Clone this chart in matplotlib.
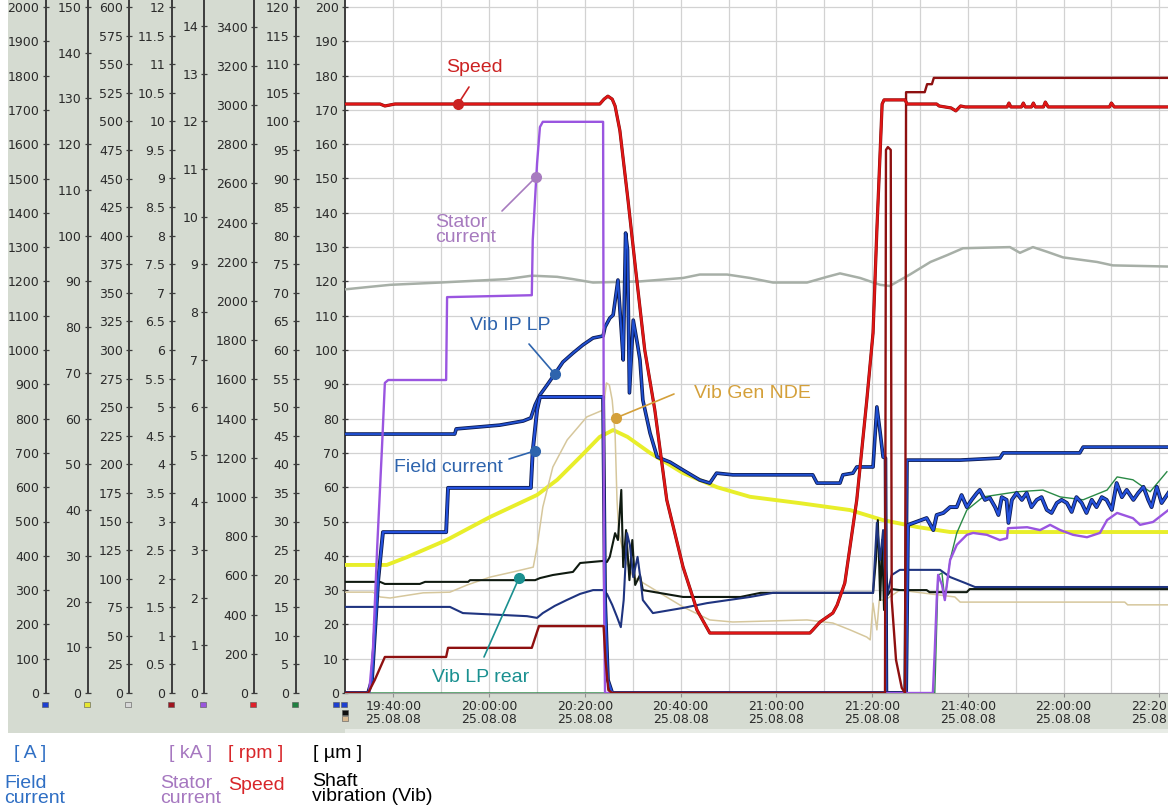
import matplotlib
matplotlib.use("Agg")
import numpy as np
import matplotlib.pyplot as plt
import matplotlib.patheffects as pe
from matplotlib.patches import Rectangle
from matplotlib.ticker import FormatStrFormatter

W, H, DPI = 1168, 811, 100

# ---------------- data ----------------
# time axis: minutes after 19:40:00 on 25.08.08
time_ticks = [0, 20, 40, 60, 80, 100, 120, 140, 160]
time_labels = ["19:40:00\n25.08.08", "20:00:00\n25.08.08", "20:20:00\n25.08.08",
               "20:40:00\n25.08.08", "21:00:00\n25.08.08", "21:20:00\n25.08.08",
               "21:40:00\n25.08.08", "22:00:00\n25.08.08", "22:20:00\n25.08.08"]

# Speed [rpm]
speed_t = [-10.2, -2.8, -1.8, 0.3, 43.1, 44.0, 44.8, 45.7, 46.3, 47.3, 49.0, 50.6, 52.5, 54.6,
           57.1, 60.5, 63.4, 66.1, 87.0, 87.6, 89.1, 91.8, 92.7, 94.3, 96.8, 98.9, 100.2, 101.0,
           101.7, 102.1, 102.5, 106.9, 107.3, 113.5, 114.0, 116.5, 117.5, 118.5, 119.5, 128.2,
           128.6, 129.0, 131.2, 131.6, 132.0, 133.3, 133.7, 134.1, 135.8, 136.2, 136.8, 149.6,
           150.0, 150.6, 161.9]
speed_rpm = [3005, 3005, 2995, 3005, 3005, 3030, 3045, 3030, 2995, 2870, 2515, 2160, 1750, 1445,
             985, 643, 424, 306, 306, 321, 362, 408, 449, 561, 985, 1495, 1837, 2362,
             2770, 3005, 3026, 3026, 3005, 3005, 2995, 2985, 2970, 2995, 2990, 2990,
             3010, 2990, 2990, 3010, 2990, 2990, 3010, 2990, 2990, 3015, 2990, 2990,
             3010, 2990, 2990]

# second (dark red) channel, scale 0-12
dred_t = [-10.2, -5.3, -3.9, -1.8, 11.0, 11.4, 28.9, 30.4, 43.9, 44.3, 44.9, 45.7, 102.7, 102.9,
          103.3, 103.9, 104.1, 105.0, 106.2, 106.9, 107.1, 111.0, 111.5, 112.5, 112.9, 161.9]
dred_val = [0, 0, 0.23, 0.63, 0.63, 0.79, 0.79, 1.17, 1.17, 0.58, 0.05, 0, 0, 9.5,
            9.55, 9.5, 1.63, 0.58, 0.09, 0, 10.51, 10.51, 10.65, 10.65, 10.76, 10.76]

# Field current [A]
field_t = [-10.2, -5.3, -4.5, -3.2, -2.2, 11.0, 11.4, 28.7, 29.1, 30.0, 30.6, 43.8, 44.2, 44.8,
           45.7, 107.1, 107.5, 111.4, 112.8, 113.5, 114.9, 116.3, 117.7, 118.7, 119.8, 120.8,
           121.9, 122.5, 123.6, 124.6, 125.7, 126.4, 127.1, 128.1, 128.5, 129.2, 130.2, 131.3,
           132.3, 133.3, 134.4, 135.4, 136.5, 137.5, 138.6, 139.6, 140.7, 141.7, 142.7, 143.8,
           144.8, 145.9, 146.9, 148.0, 149.0, 150.1, 151.1, 152.2, 153.2, 154.6, 155.6, 156.7,
           157.7, 158.4, 159.5, 160.5, 161.9]
field_A = [0, 0, 38, 329, 469, 469, 598, 598, 706, 825, 863, 863, 271, 38,
           0, 0, 490, 510, 475, 519, 525, 542, 542, 577, 542, 563,
           583, 592, 563, 569, 542, 519, 571, 563, 496, 563, 583, 563,
           583, 542, 563, 571, 534, 525, 554, 563, 554, 528, 571, 554,
           525, 563, 542, 571, 563, 534, 612, 571, 592, 563, 583, 601,
           563, 542, 601, 554, 583]

# Stator current [kA]
stator_t = [-10.2, -5.1, -4.3, -3.4, -2.4, -1.8, -1.1, 11.0, 11.2, 28.9, 29.1, 30.0, 30.6, 31.2,
            43.8, 44.0, 44.2, 112.7, 113.1, 113.5, 113.8, 114.6, 115.2, 116.3, 117.7, 119.8,
            121.1, 124.0, 126.7, 128.2, 128.4, 132.4, 135.1, 137.2, 139.3, 142.0, 144.9, 147.6,
            149.1, 151.2, 154.5, 156.0, 158.7, 161.9]
stator_kA = [0, 0, 0.90, 3.07, 5.16, 6.51, 6.57, 6.57, 8.31, 8.35, 9.51, 11.12, 11.88, 11.99,
             11.99, 1.95, 0, 0, 0.90, 1.95, 2.48, 2.27, 1.95, 2.79, 3.11, 3.32,
             3.36, 3.32, 3.21, 3.25, 3.46, 3.48, 3.42, 3.53, 3.42, 3.32, 3.27, 3.36,
             3.63, 3.78, 3.67, 3.53, 3.59, 3.84]

# Shaft vibration [um]
vib_ip_lp_t = [-10.2, 12.8, 13.1, 18.1, 22.2, 27.1, 28.7, 29.6, 30.6, 32.1, 33.7, 35.4, 37.5, 39.6,
               41.7, 43.8, 44.2, 45.2, 45.9, 46.9, 47.6, 48.0, 48.5, 48.9, 49.3, 50.1, 51.0, 51.5,
               52.1, 53.6, 55.1, 57.8, 60.5, 64.0, 66.1, 67.5, 70.9, 87.6, 88.5, 93.3, 93.9, 96.0,
               96.8, 100.2, 101.0, 101.7, 102.3, 102.8, 103.0, 106.9, 107.3, 118.4, 126.7, 127.4,
               143.4, 144.1, 161.9]
vib_ip_lp = [75.5, 75.5, 77.0, 77.6, 78.1, 79.3, 80.2, 84.0, 86.9, 89.8, 93.0, 96.5, 99.1, 101.5,
             103.5, 104.1, 106.7, 109.3, 110.2, 120.4, 105.8, 97.1, 134.1, 129.2, 87.5, 108.7, 101.5, 97.1,
             85.4, 75.8, 68.8, 67.3, 65.0, 62.1, 61.2, 64.1, 63.6, 63.6, 61.2, 61.2, 63.6, 64.1,
             65.9, 65.9, 83.4, 75.8, 68.8, 68.5, 0, 0, 67.9, 67.9, 68.5, 70.0,
             70.0, 71.7, 71.7]

vib_ip_rear_t = [-10.2, 11.8, 14.5, 27.9, 30.0, 31.2, 33.7, 36.2, 39.0, 41.7, 43.8, 44.6, 45.7,
                 46.7, 47.5, 48.1, 48.8, 49.4, 50.1, 51.0, 51.5, 52.1, 54.2, 60.5, 65.5, 74.5,
                 79.3, 100.2, 101.0, 101.7, 102.3, 102.9, 104.1, 105.8, 114.2, 116.3, 119.4,
                 121.5, 161.9]
vib_ip_rear = [25.1, 25.1, 23.3, 22.4, 21.9, 23.3, 25.4, 27.1, 28.9, 30.0, 30.0, 28.9, 25.7,
               22.2, 19.2, 27.1, 46.6, 43.1, 33.8, 39.7, 34.4, 27.1, 23.3, 24.8, 26.2, 28.0,
               29.2, 29.2, 49.6, 38.8, 47.5, 27.1, 34.4, 35.9, 35.9, 33.8, 32.1,
               30.9, 30.9]

vib_lp_rear_t = [-10.2, -2.8, -1.8, 5.5, 6.6, 15.6, 16.0, 29.6, 30.6, 33.3, 37.5, 39.0, 43.8,
                 44.6, 45.2, 46.3, 46.9, 47.6, 48.0, 48.6, 49.3, 49.9, 50.5, 51.5, 52.1, 60.5,
                 72.5, 76.7, 100.2, 100.8, 101.2, 101.7, 102.1, 102.5, 102.9, 103.3, 104.1,
                 105.8, 111.4, 112.0, 119.8, 120.4, 161.9]
vib_lp_rear = [32.4, 32.4, 31.8, 31.8, 32.4, 32.4, 32.9, 32.9, 33.5, 34.4, 35.3, 37.9, 38.5,
               38.2, 39.7, 46.6, 44.6, 59.2, 36.7, 47.5, 32.9, 44.6, 31.5, 34.4, 30.0, 28.0,
               28.0, 29.2, 29.2, 38.8, 50.4, 27.1, 44.6, 24.2, 35.9, 28.6, 30.3,
               30.0, 30.0, 29.4, 29.4, 30.3, 30.3]

vib_gen_nde_t = [-10.2, -4.3, -2.8, -0.7, 6.2, 11.8, 15.4, 20.2, 25.0, 29.2, 30.0, 31.2, 33.3,
                 36.3, 40.4, 43.8, 44.5, 45.1, 45.7, 46.3, 46.7, 47.1, 48.4, 50.1, 53.6, 60.5,
                 66.1, 70.9, 86.4, 91.8, 95.4, 98.9, 99.6, 100.2, 101.0, 101.5, 102.7, 105.8,
                 117.3, 118.4, 152.8, 153.4, 161.9]
vib_gen_nde = [29.4, 29.4, 28.0, 27.7, 29.2, 29.4, 31.5, 33.8, 35.3, 36.7, 42.6, 54.2, 65.9,
               73.8, 80.5, 82.5, 90.4, 89.8, 85.4, 75.8, 56.3, 46.6, 38.8, 33.8, 30.9, 25.1,
               21.3, 20.7, 21.3, 20.4, 18.4, 16.3, 15.5, 26.2, 18.4, 27.1, 27.1, 30.0,
               28.0, 26.5, 26.5, 25.7, 25.7]

# yellow channel (scale 0-150)
yellow_t = [-10.2, -1.4, 2.8, 11.2, 20.2, 30.0, 34.2, 39.0, 43.1, 45.9, 48.9, 53.6, 60.5, 67.6,
            74.5, 85.0, 95.4, 102.3, 109.4, 116.3, 161.9]
yellow_val = [28.0, 28.0, 29.7, 33.5, 38.5, 43.3, 46.6, 51.6, 56.0, 57.5, 56.0, 52.5, 48.1, 45.0,
              42.9, 41.5, 40.0, 37.8, 36.3, 35.2, 35.2]

# grey channel (scale 0-600)
grey_t = [-10.2, -5.5, -0.7, 9.7, 23.7, 28.9, 34.2, 37.5, 41.7, 51.5, 60.5, 64.0, 69.7, 74.5,
          79.3, 86.4, 90.6, 93.3, 97.5, 101.7, 103.7, 107.9, 112.2, 115.7, 119.0, 128.8, 130.9,
          133.6, 136.5, 139.9, 147.0, 150.3, 161.9]
grey_val = [353, 355, 357, 359, 362, 365, 364, 362, 359, 360, 363, 366, 366, 363,
            359, 359, 364, 367, 363, 357, 356, 366, 377, 383, 389, 390, 385,
            390, 386, 381, 377, 374, 373]

# green channel (scale 0-120)
green_t = [-10.2, 113.1, 113.8, 114.6, 115.2, 116.3, 117.7, 119.8, 123.2, 130.3, 135.7, 139.3,
           144.1, 149.1, 151.2, 154.5, 158.1, 161.6]
green_val = [0, 0, 20.6, 21.0, 16.3, 23.3, 28.0, 32.0, 34.3, 35.2, 35.5, 34.3,
             33.8, 35.5, 37.8, 37.3, 35.2, 38.7]

# ---------------- layout helpers ----------------
def fx(px):
    return px / W

def fy(py):
    return 1 - py / H

PL, PR, PT, PB = 345, 1168, 0, 693          # plot area in pixels
XLIM = (-10.13, 161.83)
TOP = 693 / 686.0                            # headroom above top tick
TXT = '#2a2a2a'
TICKFONT = 9
FONT = ['Liberation Sans', 'DejaVu Sans']

fig = plt.figure(figsize=(W / DPI, H / DPI), dpi=DPI)
fig.patch.set_facecolor('white')

PANEL = '#d5dbd1'
fig.add_artist(Rectangle((fx(8), fy(733)), fx(PL) - fx(8), fy(0) - fy(733),
                         transform=fig.transFigure, facecolor=PANEL, edgecolor='none', zorder=-10))
fig.add_artist(Rectangle((fx(8), fy(733)), 1 - fx(8), fy(PB) - fy(733),
                         transform=fig.transFigure, facecolor=PANEL, edgecolor='none', zorder=-10))
fig.add_artist(Rectangle((fx(PL), fy(733)), 1 - fx(PL), fy(729) - fy(733),
                         transform=fig.transFigure, facecolor='#e8ece6', edgecolor='none', zorder=-9))

ax = fig.add_axes([fx(PL), fy(PB), fx(PR) - fx(PL), fy(PT) - fy(PB)])
ax.set_facecolor('white')
ax.set_xlim(*XLIM)
ax.set_ylim(0, 200 * TOP)
ax.set_yticks(np.arange(0, 201, 10))
ax.yaxis.set_major_formatter(FormatStrFormatter('%g'))
ax.set_xticks(time_ticks)
ax.set_xticklabels(time_labels, fontsize=TICKFONT, color=TXT, linespacing=1.0)
ax.set_xticks(np.arange(0, 161, 10), minor=True)
ax.grid(True, which='both', color='#d2d2d2', lw=0.9)
ax.set_axisbelow(True)
ax.tick_params(axis='x', which='major', direction='out', length=3, width=0.8,
               color='#909090', pad=2)
ax.tick_params(axis='x', which='minor', length=0)
ax.tick_params(axis='y', direction='inout', length=5, width=0.9, color='#3c3c3c',
               labelsize=TICKFONT, labelcolor=TXT, pad=2)
for s in ('top', 'right'):
    ax.spines[s].set_visible(False)
ax.spines['bottom'].set_color('#a0a0a0')
ax.spines['left'].set_color('#3c3c3c')
ax.spines['left'].set_linewidth(1.4)

# secondary scales: (max, step, spine x pixel, flag colour)
scales = [
    (2000, 100, 45.7, '#1d3fd0'),
    (150, 10, 87.7, '#e6e630'),
    (600, 25, 129.0, '#d8d8d8'),
    (12, 0.5, 171.7, '#a0141e'),
    (14.4, 1, 204.3, '#9955dd'),
    (3500, 200, 254.0, '#e0202a'),
    (120, 5, 295.7, '#208040'),
]

def make_twin(ymax, z):
    tw = ax.twinx()
    tw.set_ylim(0, ymax * TOP)
    tw.set_zorder(z)
    tw.patch.set_visible(False)
    for s in tw.spines.values():
        s.set_visible(False)
    tw.set_yticks([])
    return tw

twins = []
for i, (mx, step, sx, fc) in enumerate(scales):
    tw = make_twin(mx, 1)
    tw.spines['left'].set_visible(True)
    tw.spines['left'].set_position(('axes', (sx - PL) / (PR - PL)))
    tw.spines['left'].set_color('#3c3c3c')
    tw.spines['left'].set_linewidth(1.4)
    tw.yaxis.set_ticks_position('left')
    ticks = np.arange(0, mx * TOP + 1e-9, step)
    tw.set_yticks(ticks)
    tw.yaxis.set_major_formatter(FormatStrFormatter('%g'))
    tw.tick_params(axis='y', direction='inout', length=5, width=0.9, color='#3c3c3c',
                   labelsize=TICKFONT, labelcolor=TXT, pad=2)
    twins.append(tw)
    fig.add_artist(Rectangle((fx(sx - 4), fy(707)), fx(6), fy(702) - fy(707),
                             transform=fig.transFigure, facecolor=fc, edgecolor='#555555',
                             lw=0.4, zorder=5))

# flags under the vibration scale
for (x0, y0, c) in [(333, 702, '#1d3fd0'), (341, 702, '#1d3fd0'),
                    (342, 710, '#101010'), (342, 716, '#d8b890')]:
    fig.add_artist(Rectangle((fx(x0), fy(y0 + 5)), fx(6), fy(y0) - fy(y0 + 5),
                             transform=fig.transFigure, facecolor=c, edgecolor='#555555',
                             lw=0.4, zorder=5))

ax_field, ax_yel, ax_grey, ax_dred, ax_stat, ax_speed, ax_green = twins

# ---------- data lines (separate drawing layers) ----------
ax_grey.set_zorder(2)
ax_grey.plot(grey_t, grey_val, color='#a7afa7', lw=1.8)

ax_yel.set_zorder(3)
ax_yel.plot(yellow_t, yellow_val, color='#e8ee2a', lw=2.8)

ax_green.set_zorder(4)
ax_green.plot(green_t, green_val, color='#2a8a46', lw=1.0)

ax_vib = make_twin(200, 5)
ax_vib.plot(vib_gen_nde_t, vib_gen_nde, color='#d6c79c', lw=1.1)
ax_vib.plot(vib_lp_rear_t, vib_lp_rear, color='#0f1a10', lw=1.5)
ax_vib.plot(vib_ip_rear_t, vib_ip_rear, color='#1f3480', lw=1.5)
ax_vib.plot(vib_ip_lp_t, vib_ip_lp, color='#1f4fd0', lw=1.4,
            path_effects=[pe.Stroke(linewidth=2.6, foreground='#0c1a50'), pe.Normal()])

ax_field.set_zorder(6)
ax_field.plot(field_t, field_A, color='#2451dd', lw=1.6,
              path_effects=[pe.Stroke(linewidth=2.8, foreground='#0c1a50'), pe.Normal()])

ax_stat.set_zorder(7)
ax_stat.plot(stator_t, stator_kA, color='#9a55e0', lw=1.7)

ax_dred.set_zorder(8)
ax_dred.plot(dred_t, dred_val, color='#8e1010', lw=1.7)

ax_speed.set_zorder(9)
ax_speed.plot(speed_t, speed_rpm, color='#e01616', lw=1.7,
              path_effects=[pe.Stroke(linewidth=2.3, foreground='#7a0808'), pe.Normal()])

# ---------- annotations ----------
ax_ann = make_twin(200, 10)
# (text, colour, anchor (minutes, um-scale), text centre px, line start px, ha)
annotations = [
    ("Speed", '#cc2222', (13.48, 171.7), (474, 68), (469, 87), 'center'),
    ("Stator\ncurrent", '#a77bbf', (29.77, 150.4), (435, 230), (502, 211), 'left'),
    ("Vib IP LP", '#2e64ad', (33.72, 93.0), (510, 325), (529, 344), 'center'),
    ("Field current", '#2e64ad', (29.57, 70.6), (448, 467), (509, 459), 'center'),
    ("Vib Gen NDE", '#d4a03a', (46.49, 80.2), (752, 393), (674, 394), 'center'),
    ("Vib LP rear", '#1a9090', (26.22, 33.5), (481, 678), (484, 657), 'center'),
]
for txt, c, anchor, tpos, lstart, ha in annotations:
    ax_ann.annotate('', xy=anchor, xycoords='data',
                    xytext=(lstart[0], H - lstart[1]), textcoords='figure pixels',
                    arrowprops=dict(arrowstyle='-', color=c, lw=1.2, shrinkA=0, shrinkB=0))
    ax_ann.plot([anchor[0]], [anchor[1]], 'o', color=c, ms=7, mec=c)
    fig.text(fx(tpos[0]), fy(tpos[1]), txt, color=c, fontsize=14, family=FONT,
             ha=ha, va='center', linespacing=0.85, zorder=20)

# ---------- unit captions below the chart ----------
captions = [
    ("[ A ]", '#2f6fc4', 14, 753),
    ("Field\ncurrent", '#2f6fc4', 4, 791),
    ("[ kA ]", '#a678c0', 169, 753),
    ("Stator\ncurrent", '#a678c0', 160, 791),
    ("[ rpm ]", '#d8262a', 228, 753),
    ("Speed", '#d8262a', 228, 786),
    ("[ µm ]", '#000000', 313, 753),
    ("Shaft\nvibration (Vib)", '#000000', 312, 789),
]
for txt, c, x, y in captions:
    fig.text(fx(x), fy(y), txt, color=c, fontsize=14, family=FONT,
             ha='left', va='center', linespacing=0.88)

fig.savefig('out.png', dpi=DPI)
